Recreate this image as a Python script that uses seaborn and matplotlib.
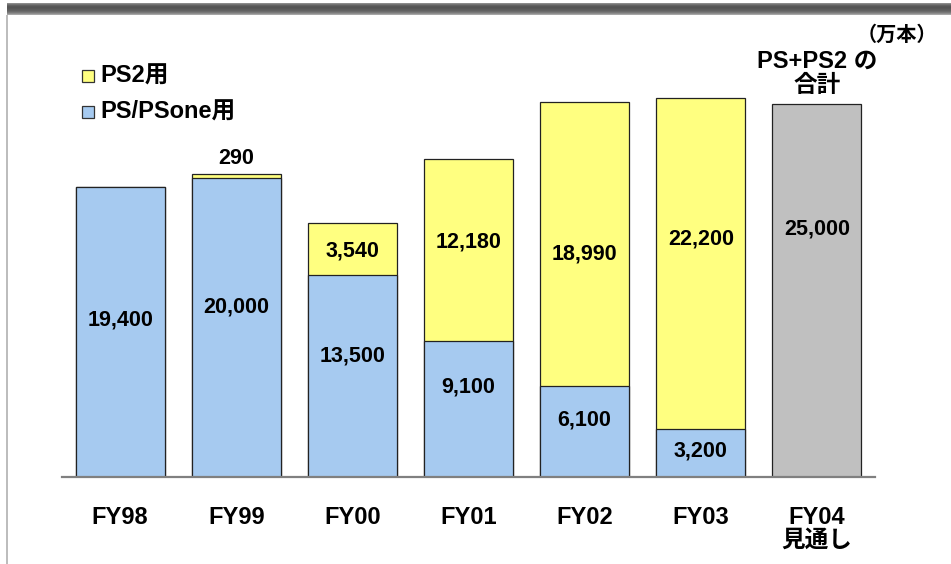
import numpy as np
import pandas as pd
import matplotlib.pyplot as plt
import seaborn as sns
from matplotlib.patches import Rectangle

# data (万本)
years = ["FY98", "FY99", "FY00", "FY01", "FY02", "FY03", "FY04\n見通し"]
ps_one = [19400, 20000, 13500, 9100, 6100, 3200]
ps2 = [0, 290, 3540, 12180, 18990, 22200]
fy04_total = 25000

# label nudges in px (negative = up), just to sit like the slide
blue_shift = [-12, -21, -20, -22, -11, -2]
yellow_shift = [0, 0, 2, -8, 10, -24]
gray_shift = -61

sns.set_style("white")
plt.rcParams["font.family"] = ["Liberation Sans", "Noto Sans CJK JP", "DejaVu Sans"]
plt.rcParams["font.weight"] = "bold"
plt.rcParams["text.color"] = "black"
plt.rcParams["xtick.color"] = "black"

W, H = 951, 564
fig = plt.figure(figsize=(W / 100, H / 100), dpi=100)
ax = fig.add_axes([62 / W, 87 / H, 813 / W, 433 / H])

totals = [a + b for a, b in zip(ps_one, ps2)] + [fy04_total]
back = pd.DataFrame({"year": years, "value": totals})
front = pd.DataFrame({"year": years[:6], "value": ps_one})

yellow = "#FFFF80"
blue = "#A6CAF0"
gray = "#C0C0C0"

sns.barplot(data=back, x="year", y="value", hue="year", order=years,
            palette=[yellow] * 6 + [gray], legend=False, width=0.766,
            saturation=1, edgecolor="#222222", linewidth=0.9, ax=ax)
sns.barplot(data=front, x="year", y="value", hue="year", order=years,
            palette=[blue] * 6, legend=False, width=0.766,
            saturation=1, edgecolor="#222222", linewidth=0.9, ax=ax)

ax.set_xlim(-0.5, 6.5)
ax.set_ylim(0, 29000)
ax.set_xlabel("")
ax.set_ylabel("")
ax.set_yticks([])
for s in ["top", "left", "right"]:
    ax.spines[s].set_visible(False)
ax.spines["bottom"].set_color("#808080")
ax.spines["bottom"].set_linewidth(1.6)
ax.tick_params(axis="x", length=0, pad=21, labelsize=17)
for t in ax.get_xticklabels():
    t.set_fontweight("bold")
    t.set_linespacing(0.95)

px = 29000 / 433  # data units per pixel
fs = 15.5
for i, v in enumerate(ps_one):
    ax.text(i, v / 2 - blue_shift[i] * px, f"{v:,}", ha="center", va="center",
            fontsize=fs, fontweight="bold")
for i, v in enumerate(ps2):
    if v == 0:
        continue
    if v < 1000:
        ax.text(i, ps_one[i] + v + 16 * px, f"{v:,}", ha="center", va="center",
                fontsize=fs, fontweight="bold")
    else:
        ax.text(i, ps_one[i] + v / 2 - yellow_shift[i] * px, f"{v:,}",
                ha="center", va="center", fontsize=fs, fontweight="bold")
ax.text(6, fy04_total / 2 - gray_shift * px, f"{fy04_total:,}", ha="center",
        va="center", fontsize=fs, fontweight="bold")

# header text over the FY04 bar
ax.text(6, fy04_total + 7 * px, "PS+PS2 の\n合計", ha="center", va="bottom",
        fontsize=17, fontweight="bold", linespacing=1.05)
fig.text(937 / W, 1 - 35 / H, "（万本）", ha="right", va="center",
         fontsize=14.5, fontweight="bold")

# legend
legend_items = [("PS2用", yellow, 76), ("PS/PSone用", blue, 112)]
for label, col, yc in legend_items:
    fig.patches.append(Rectangle((82 / W, 1 - (yc + 6) / H), 12 / W, 12 / H,
                                 transform=fig.transFigure, facecolor=col,
                                 edgecolor="#333333", linewidth=0.9))
    fig.text(100 / W, 1 - yc / H, label, ha="left", va="center",
             fontsize=17, fontweight="bold")

# slide frame: dark band on top and thin gray line on the left
grad = np.array([0.55, 0.45, 0.38, 0.34, 0.33, 0.34, 0.36, 0.38, 0.42, 0.48, 0.55, 0.65])
band = fig.add_axes([7 / W, 1 - 15 / H, 1 - 7 / W, 12 / H])
band.imshow(np.repeat(grad.reshape(-1, 1), 2, axis=1), aspect="auto",
            cmap="gray", vmin=0, vmax=1, extent=[0, 1, 0, 1])
band.axis("off")
fig.patches.append(Rectangle((6 / W, 0), 2 / W, 1 - 15 / H,
                             transform=fig.transFigure, facecolor="#BDBDBD",
                             edgecolor="none"))

fig.savefig("out.png", dpi=100)
